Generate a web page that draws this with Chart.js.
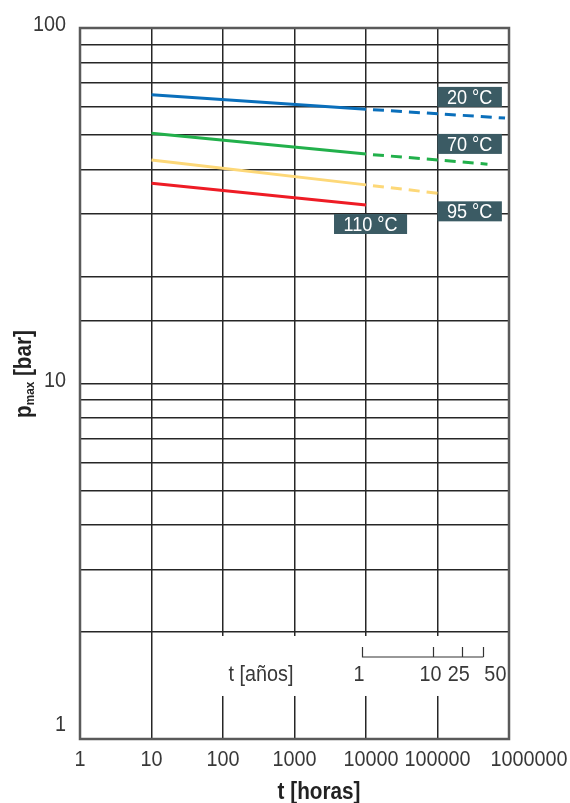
<!DOCTYPE html>
<html>
<head>
<meta charset="utf-8">
<script src="https://cdn.jsdelivr.net/npm/chart.js@4/dist/chart.umd.min.js"></script>
<style>
  html, body { margin: 0; padding: 0; background: #fff; }
  #wrap { width: 570px; height: 803px; }
</style>
</head>
<body>
<div id="wrap"><canvas id="grafico"></canvas></div>
<script>
// datos
const xTicks = [1, 10, 100, 1000, 10000, 100000, 1000000];
const yLabeled = [1, 10, 100];
const temps = ['20 °C', '70 °C', '95 °C', '110 °C'];

const horasSolido = [10, 10000];
const p20 = [64.9, 59.1];
const p70 = [50.6, 44.2];
const p95 = [42.5, 36.2];
const p110 = [36.6, 31.8];

// extrapolación (trazos discontinuos)
const horas20Ext = [10000, 880000];
const p20Ext = [59.1, 55.8];
const horas70Ext = [10000, 500000];
const p70Ext = [44.2, 41.4];
const horas95Ext = [10000, 100000];
const p95Ext = [36.2, 34.3];

// etiquetas de temperatura (posición en unidades de datos)
const etiquetaX = [100000, 100000, 100000, 3570];
const etiquetaY = [64, 47.2, 30.5, 28.1];

// eje secundario en años
const yearLabels = ['1', '10', '25', '50'];
const yearHours = [8760, 87600, 219000, 438000];

const colores = ['#0a6fbb', '#22b04b', '#fdd878', '#ee1c25'];
const FUENTE = "'Liberation Sans', Arial, sans-serif";
const ESTRECHO = 0.9; // simula una fuente condensada
// pequeños corrimientos de las etiquetas del eje x (como en el original)
const corrimientoX = { 10000: 5, 1000000: 20 };

function pts(xs, ys) {
  return xs.map((x, i) => ({ x: x, y: ys[i] }));
}

function serie(xs, ys, color, dashed) {
  return {
    data: pts(xs, ys),
    borderColor: color,
    borderWidth: 3,
    pointRadius: 0,
    borderCapStyle: 'butt',
    borderDash: dashed ? [11, 7] : [],
    borderDashOffset: dashed ? 11 : 0,
    fill: false
  };
}

// texto comprimido horizontalmente
function texto(ctx, t, x, y, font, align, k) {
  ctx.save();
  ctx.translate(x, y);
  ctx.scale(k || ESTRECHO, 1);
  ctx.font = font;
  ctx.textAlign = align || 'center';
  ctx.fillText(t, 0, 0);
  ctx.restore();
}

const extras = {
  id: 'extras',
  beforeDatasetsDraw(chart) {
    const ctx = chart.ctx;
    const a = chart.chartArea;
    const xs = chart.scales.x;
    const ys = chart.scales.y;
    const y2 = ys.getPixelForValue(2);
    ctx.save();
    // hueco blanco para el eje de años
    ctx.fillStyle = '#fff';
    ctx.fillRect(xs.getPixelForValue(10) + 2, y2 + 4, a.right - xs.getPixelForValue(10) - 4, 60);

    // eje de años
    const yl = y2 + 25;
    const xa = xs.getPixelForValue(yearHours[0]);
    const xb = xs.getPixelForValue(yearHours[yearHours.length - 1]);
    ctx.strokeStyle = '#333';
    ctx.lineWidth = 1.2;
    ctx.beginPath();
    ctx.moveTo(xa, yl);
    ctx.lineTo(xb, yl);
    yearHours.forEach(h => {
      const px = Math.round(xs.getPixelForValue(h)) + 0.5;
      ctx.moveTo(px, yl);
      ctx.lineTo(px, yl - 10);
    });
    ctx.stroke();

    ctx.fillStyle = '#383838';
    ctx.textBaseline = 'middle';
    const f = '22px ' + FUENTE;
    yearLabels.forEach((t, i) => {
      const px = xs.getPixelForValue(yearHours[i]);
      if (i === yearLabels.length - 1) texto(ctx, t, px + 1, yl + 18, f, 'left');
      else texto(ctx, t, px - 3, yl + 18, f, 'center');
    });
    texto(ctx, 't [años]', xs.getPixelForValue(340), yl + 18, f, 'center');

    // marco exterior
    ctx.strokeStyle = '#5a5a5a';
    ctx.lineWidth = 2.5;
    ctx.strokeRect(a.left, a.top, a.right - a.left, a.bottom - a.top);
    ctx.restore();
  },
  afterDatasetsDraw(chart) {
    const ctx = chart.ctx;
    const a = chart.chartArea;
    const xs = chart.scales.x;
    const ys = chart.scales.y;
    ctx.save();

    // etiquetas de temperatura
    ctx.textBaseline = 'middle';
    const fe = '21px ' + FUENTE;
    temps.forEach((t, i) => {
      ctx.font = fe;
      const w = ctx.measureText(t).width * 0.86 + 19;
      const x0 = xs.getPixelForValue(etiquetaX[i]);
      const yc = ys.getPixelForValue(etiquetaY[i]);
      ctx.fillStyle = '#3b5b64';
      ctx.fillRect(x0, yc - 10, w, 20);
      ctx.fillStyle = '#fff';
      texto(ctx, t, x0 + w / 2, yc + 1, fe, 'center', 0.86);
    });

    // etiquetas de los ejes
    ctx.fillStyle = '#383838';
    const ft = '22px ' + FUENTE;
    xTicks.forEach(v => {
      texto(ctx, String(v), xs.getPixelForValue(v) + (corrimientoX[v] || 0), a.bottom + 21, ft, 'center');
    });
    yLabeled.forEach(v => {
      const py = Math.min(ys.getPixelForValue(v) - 3, a.bottom - 14);
      texto(ctx, String(v), a.left - 14, py, ft, 'right');
    });

    // títulos de los ejes
    ctx.fillStyle = '#222';
    ctx.textBaseline = 'alphabetic';
    texto(ctx, 't [horas]', 319, 799, 'bold 23px ' + FUENTE, 'center', 0.9);

    ctx.translate(31, 374);
    ctx.rotate(-Math.PI / 2);
    ctx.scale(0.9, 1);
    const big = 'bold 23px ' + FUENTE;
    const small = 'bold 13px ' + FUENTE;
    ctx.font = big;
    const wp = ctx.measureText('p').width;
    const wr = ctx.measureText(' [bar]').width;
    ctx.font = small;
    const wm = ctx.measureText('max').width;
    let x = -(wp + wm + wr) / 2;
    ctx.textAlign = 'left';
    ctx.font = big;
    ctx.fillText('p', x, 0);
    x += wp;
    ctx.font = small;
    ctx.fillText('max', x, 3);
    x += wm;
    ctx.font = big;
    ctx.fillText(' [bar]', x, 0);
    ctx.restore();
  }
};

new Chart(document.getElementById('grafico'), {
  type: 'line',
  data: {
    datasets: [
      serie(horasSolido, p20, colores[0], false),
      serie(horas20Ext, p20Ext, colores[0], true),
      serie(horasSolido, p70, colores[1], false),
      serie(horas70Ext, p70Ext, colores[1], true),
      serie(horasSolido, p95, colores[2], false),
      serie(horas95Ext, p95Ext, colores[2], true),
      serie(horasSolido, p110, colores[3], false)
    ]
  },
  options: {
    responsive: true,
    maintainAspectRatio: false,
    animation: false,
    layout: { padding: { top: 28, right: 61, left: 0, bottom: 0 } },
    plugins: { legend: { display: false }, tooltip: { enabled: false } },
    scales: {
      x: {
        type: 'logarithmic',
        min: 1,
        max: 1000000,
        afterBuildTicks: s => { s.ticks = xTicks.map(v => ({ value: v })); },
        afterFit: s => { s.height = 64; },
        grid: { color: '#262626', lineWidth: 1.5, drawTicks: false },
        border: { display: false },
        ticks: { display: false }
      },
      y: {
        type: 'logarithmic',
        min: 1,
        max: 100,
        afterFit: s => { s.width = 80; },
        grid: { color: '#262626', lineWidth: 1.5, drawTicks: false },
        border: { display: false },
        ticks: { display: false }
      }
    }
  },
  plugins: [extras]
});
</script>
</body>
</html>
